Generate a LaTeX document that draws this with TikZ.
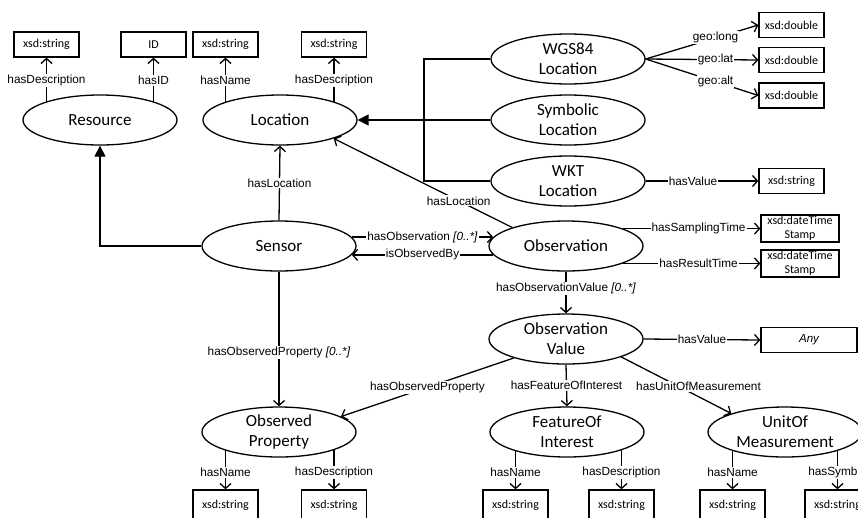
\documentclass[tikz,border=0pt]{standalone}
\usepackage{fontspec}
\setmainfont{Carlito}
\newfontfamily\lblfont{Liberation Sans}
\usetikzlibrary{arrows.meta,shapes.geometric,calc}
\pgfdeclarelayer{bg}
\pgfsetlayers{bg,main}
\begin{document}
\begin{tikzpicture}[x=1pt,y=-1pt,
  cls/.style={ellipse,draw,line width=1.3pt,fill=white,minimum width=154pt,minimum height=50pt,inner sep=-4pt,align=center,font=\fontsize{17}{20}\selectfont},
  lit/.style={rectangle,draw,line width=1.3pt,fill=white,minimum width=65pt,minimum height=25pt,inner sep=0pt,align=center,font=\fontsize{12}{14}\selectfont},
  arr/.style={line width=1.3pt,-{Straight Barb[length=5pt,width=11pt]}},
  ln/.style={line width=1.3pt},
  inh/.style={line width=1.3pt,-{Triangle[length=11pt,width=11pt]}},
  lbl/.style={fill=white,inner sep=1pt,font=\lblfont\fontsize{11.8}{13}\selectfont}
]
\useasboundingbox (0,0) rectangle (858,517);
\clip (0,0) rectangle (858,517);
% classes
\node[cls] (res) at (100,120) {Resource};
\node[cls] (loc) at (280,120) {Location};
\node[cls] (wgs) at (568,59) {WGS84\\Location};
\node[cls] (sym) at (568,120) {Symbolic\\Location};
\node[cls] (wkt) at (568,181) {WKT\\Location};
\node[cls] (sensor) at (279,246) {Sensor};
\node[cls] (obs) at (566,246) {Observation};
\node[cls] (ov) at (566,339) {Observation\\Value};
\node[cls] (op) at (279,432) {Observed\\Property};
\node[cls] (foi) at (567,432) {FeatureOf\\Interest};
\node[cls] (uom) at (785,432) {UnitOf\\Measurement};
% literals
\node[lit] (rdesc) at (46.5,44.5) {xsd:string};
\node[lit] (rid) at (153.5,44.5) {ID};
\node[lit] (lname) at (225.5,44.5) {xsd:string};
\node[lit] (ldesc) at (334,44.5) {xsd:string};
\node[lit] (dlong) at (791.5,25) {xsd:double};
\node[lit] (dlat) at (791.5,60) {xsd:double};
\node[lit] (dalt) at (791.5,95.5) {xsd:double};
\node[lit] (wktv) at (791.5,181) {xsd:string};
\node[lit,minimum width=78pt,minimum height=27pt] (ts1) at (800,228.5) {xsd:dateTime\\Stamp};
\node[lit,minimum width=78pt,minimum height=27pt] (ts2) at (800,263.5) {xsd:dateTime\\Stamp};
\node[lit,minimum width=96pt,font=\lblfont\itshape\fontsize{11.5}{13}\selectfont] (any) at (809,340) {Any};
\node[lit,minimum height=30pt] (opn) at (225.5,505) {xsd:string};
\node[lit,minimum height=30pt] (opd) at (334,505) {xsd:string};
\node[lit,minimum height=30pt] (foin) at (515.5,505) {xsd:string};
\node[lit,minimum height=30pt] (foid) at (621.5,505) {xsd:string};
\node[lit,minimum height=30pt] (uomn) at (732.5,505) {xsd:string};
\node[lit,minimum height=30pt] (uoms) at (837.5,505) {xsd:string};
\coordinate (j) at (424,120);
\begin{pgfonlayer}{bg}
% top attributes
\draw[arr] (rdesc.south |- res.center) -- node[lbl,pos=0.635]{hasDescription} (rdesc.south);
\draw[arr] (rid.south |- res.center) -- node[lbl,pos=0.635]{hasID} (rid.south);
\draw[arr] (lname.south |- loc.center) -- node[lbl,pos=0.635]{hasName} (lname.south);
\draw[arr] (ldesc.south |- loc.center) -- node[lbl,pos=0.635]{hasDescription} (ldesc.south);
% inheritance
\draw[inh] (sensor.west) -| (res.south);
\draw[ln] (wgs.west) -| (j) |- (wkt.west);
\draw[inh] (sym.west) -- (loc.east);
% WGS84
\draw[arr] (wgs.east) -- node[lbl,pos=0.62]{geo:long} (dlong.west);
\draw[arr] (wgs.east) -- node[lbl,pos=0.62]{geo:lat} (dlat.west);
\draw[arr] (wgs.east) -- node[lbl,pos=0.62]{geo:alt} (dalt.west);
\draw[arr] (wkt.east) -- node[lbl,pos=0.42]{hasValue} (wktv.west);
% sensor / observation
\draw[arr] (sensor.north) -- node[lbl]{hasLocation} (loc.south);
\draw[arr] (sensor.7) -- node[lbl]{hasObservation \textit{[0..*]}} (obs.173);
\draw[arr] (obs.187) -- node[lbl]{isObservedBy} (sensor.-7);
\draw[arr] (obs.161) -- node[lbl,pos=0.3]{hasLocation} (loc.-19);
\draw[arr] (obs.17) -- node[lbl,pos=0.55]{hasSamplingTime} (obs.17 -| ts1.west);
\draw[arr] (obs.-17) -- node[lbl,pos=0.55]{hasResultTime} (obs.-17 -| ts2.west);
\draw[arr] (obs.south) -- node[lbl,pos=0.4]{hasObservationValue \textit{[0..*]}} (ov.north);
\draw[arr] (ov.east) -- node[lbl]{hasValue} (any.west);
\draw[arr] (sensor.south) -- node[lbl,pos=0.6]{hasObservedProperty \textit{[0..*]}} (op.north);
\draw[arr] (ov.200) -- node[lbl]{hasObservedProperty} (op.14);
\draw[arr] (ov.south) -- node[lbl]{hasFeatureOfInterest} (foi.north);
\draw[arr] (ov.-18) -- node[lbl,pos=0.52,xshift=20pt]{hasUnitOfMeasurement} (uom.161);
% bottom attributes
\draw[arr] (opn.north |- op.center) -- node[lbl,pos=0.71]{hasName} (opn.north);
\draw[arr] (opd.north |- op.center) -- node[lbl,pos=0.71]{hasDescription} (opd.north);
\draw[arr] (foin.north |- foi.center) -- node[lbl,pos=0.71]{hasName} (foin.north);
\draw[arr] (foid.north |- foi.center) -- node[lbl,pos=0.71]{hasDescription} (foid.north);
\draw[arr] (uomn.north |- uom.center) -- node[lbl,pos=0.71]{hasName} (uomn.north);
\draw[arr] (uoms.north |- uom.center) -- node[lbl,pos=0.71]{hasSymbol} (uoms.north);
\end{pgfonlayer}
\end{tikzpicture}
\end{document}
